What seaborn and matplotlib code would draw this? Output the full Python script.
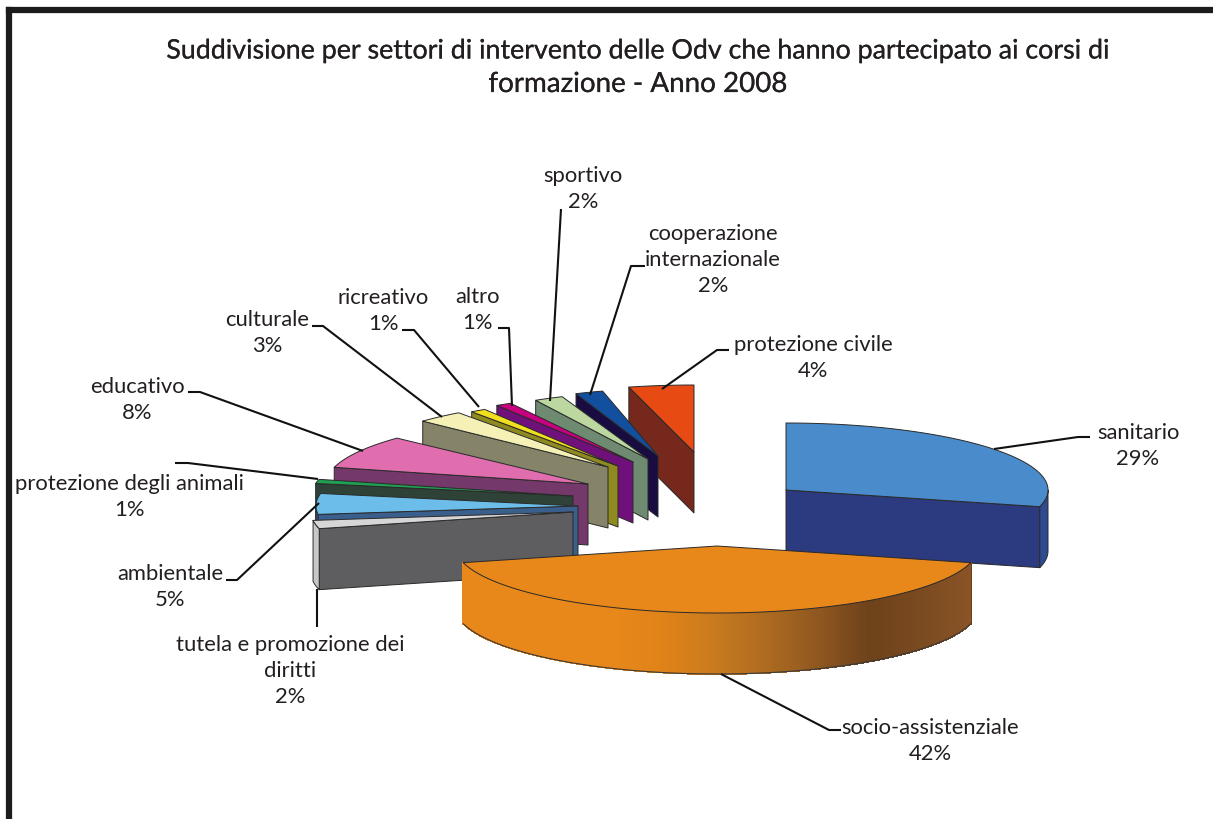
import numpy as np
import matplotlib
matplotlib.use("Agg")
import matplotlib.pyplot as plt
import matplotlib.patheffects as pe
import seaborn as sns

# Values, clockwise from 12 o'clock
settori = ['sanitario', 'socio-assistenziale', 'tutela e promozione dei\ndiritti', 'ambientale',
           'protezione degli animali', 'educativo', 'culturale', 'ricreativo', 'altro', 'sportivo',
           'cooperazione\ninternazionale', 'protezione civile']
valori = [29, 42, 2, 5, 1, 8, 3, 1, 1, 2, 2, 4]

top_colors = ['#4A8CCB', '#E8871A', '#D6D6D6', '#6CBDEA', '#1FA052', '#E06EAE',
              '#F5F1B6', '#F0E01E', '#C8007F', '#BCD8A0', '#124F9F', '#E84A14']
wall_colors = ['#2C3A80', '#E8871A', '#5E5E60', '#3B5F8C', '#2E4238', '#74386A',
               '#868468', '#8E8A20', '#70107A', '#6E8A70', '#180C40', '#76281C']
rim_colors = ['#2F4A8E', '#E8871A', '#C8C8C8', '#3B5F8C', '#2E4238', '#74386A',
              '#868468', '#8E8A20', '#70107A', '#6E8A70', '#180C40', '#76281C']

# Exploded position of each slice, pixels away from the pie centre
explode_x = [66, -3, -147, -142, -147, -132, -112, -102, -87, -72, -62, -26]
explode_y = [-9, 47, 13, 7, -3, -15, -32, -33, -37, -40, -43, -47]
# The back slices look a little narrower in the picture's perspective
squeeze = [1, 1, 1, 1, 1, 1, 0.97, 0.95, 0.97, 0.89, 0.85, 1]

# Label centres and leader lines, in pixels
label_x = [1138, 930, 290, 170, 129, 137, 267, 383, 477, 583, 713, 813]
label_y = [433, 728, 645, 574, 484, 387, 320, 298, 297, 176, 234, 345]
leaders = [[(1090, 438), (1078, 438), (994, 450)],
           [(841, 731), (829, 731), (721, 675)],
           [(317, 628), (317, 590)],
           [(226, 581), (237, 581), (319, 504)],
           [(175, 464), (188, 464), (318, 480)],
           [(188, 393), (200, 393), (363, 452)],
           [(312, 327), (323, 327), (442, 418)],
           [(402, 331), (414, 331), (479, 408)],
           [(498, 329), (509, 329), (512, 407)],
           [(561, 210), (550, 402)],
           [(645, 267), (631, 267), (590, 396)],
           [(729, 351), (717, 351), (662, 390)]]

cx, cy = 720, 500
rx, ry = 262, 67
depth = 61

sns.set_theme(style="white")
plt.rcParams['font.family'] = ['Lato', 'DejaVu Sans']
text_color = '#231F20'

fig = plt.figure(figsize=(12.13, 8.2), dpi=100)
ax = fig.add_axes([0, 0, 1, 1])
ax.set_xlim(0, 1213)
ax.set_ylim(820, 0)
ax.axis('off')

wall_cmap = sns.blend_palette(['#E8871A', '#E8871A', '#E8871A', '#E8871A', '#DE8219', '#C77A1E',
                               '#AD6A20', '#8E5720', '#6E421A', '#7A4A20', '#8A5426'], as_cmap=True)


def rim(i, a, b, n=None):
    x0 = cx + explode_x[i]
    y0 = cy + explode_y[i]
    if n is None:
        n = max(int(b - a) * 2, 4)
    t = np.radians(np.linspace(a, b, n))
    return x0 + squeeze[i] * rx * np.sin(t), y0 - ry * np.cos(t)


def draw_slice(i, a, b):
    x0 = cx + explode_x[i]
    y0 = cy + explode_y[i]
    edge = dict(edgecolor='#2A2A2A', linewidth=0.7, joinstyle='round')

    # radial walls that face the viewer
    for ang, show in [(a, np.sin(np.radians(a)) < -1e-6), (b, np.sin(np.radians(b)) > 1e-6)]:
        if show:
            px, py = rim(i, ang, ang + 1e-3)
            ax.fill([x0, px[0], px[0], x0], [y0, py[0], py[0] + depth, y0 + depth],
                    facecolor=wall_colors[i], **edge)

    # outer wall, front half only
    lo, hi = max(a, 90), min(b, 270)
    if hi > lo:
        if settori[i] == 'socio-assistenziale':
            # shaded wall, one narrow strip at a time
            px, py = rim(i, lo, hi, 900)
            for k in range(len(px) - 1):
                t = (px[k] - px.min()) / (px.max() - px.min())
                ax.fill([px[k], px[k + 1], px[k + 1], px[k]],
                        [py[k], py[k + 1], py[k + 1] + depth, py[k] + depth],
                        facecolor=wall_cmap(t), edgecolor=wall_cmap(t), linewidth=0.6, antialiased=False)
            ax.plot(px, py + depth, color='#3A3A3A', lw=0.8)
            ax.plot([px[0], px[0]], [py[0], py[0] + depth], color='#6A4020', lw=0.7)
        else:
            px, py = rim(i, lo, hi)
            ax.fill(np.r_[px, px[::-1]], np.r_[py, py[::-1] + depth], facecolor=rim_colors[i], **edge)

    # top face
    px, py = rim(i, a, b)
    ax.fill(np.r_[x0, px], np.r_[y0, py], facecolor=top_colors[i], **edge)


ends = np.cumsum(valori) * 3.6
starts = ends - np.array(valori) * 3.6

# Back slices first, right to left, then the two big ones in front
for i in list(range(len(valori) - 1, 1, -1)) + [0, 1]:
    draw_slice(i, starts[i], ends[i])

for pts in leaders:
    xs, ys = zip(*pts)
    ax.plot(xs, ys, color='#111111', lw=1.5, solid_capstyle='butt', solid_joinstyle='round')

for i, name in enumerate(settori):
    lines = name.split('\n') + [f'{valori[i]}%']
    for k, line in enumerate(lines):
        ax.text(label_x[i], label_y[i] + k * 26, line, ha='center', va='center',
                fontsize=15.8, color=text_color)

title_fx = [pe.withStroke(linewidth=0.15, foreground=text_color)]
ax.text(638, 52, 'Suddivisione per settori di intervento delle Odv che hanno partecipato ai corsi di',
        ha='center', va='center', fontsize=19.3, color=text_color, path_effects=title_fx)
ax.text(638, 85, 'formazione - Anno 2008', ha='center', va='center', fontsize=20,
        color=text_color, path_effects=title_fx)

# Heavy frame, cut by the right and bottom of the picture
ax.plot([9, 9], [820, 11], color='#1C1C1C', lw=4.5, solid_capstyle='projecting')
ax.plot([9, 1213], [11, 11], color='#1C1C1C', lw=4.5, solid_capstyle='projecting')

fig.savefig('out.png', dpi=100)
